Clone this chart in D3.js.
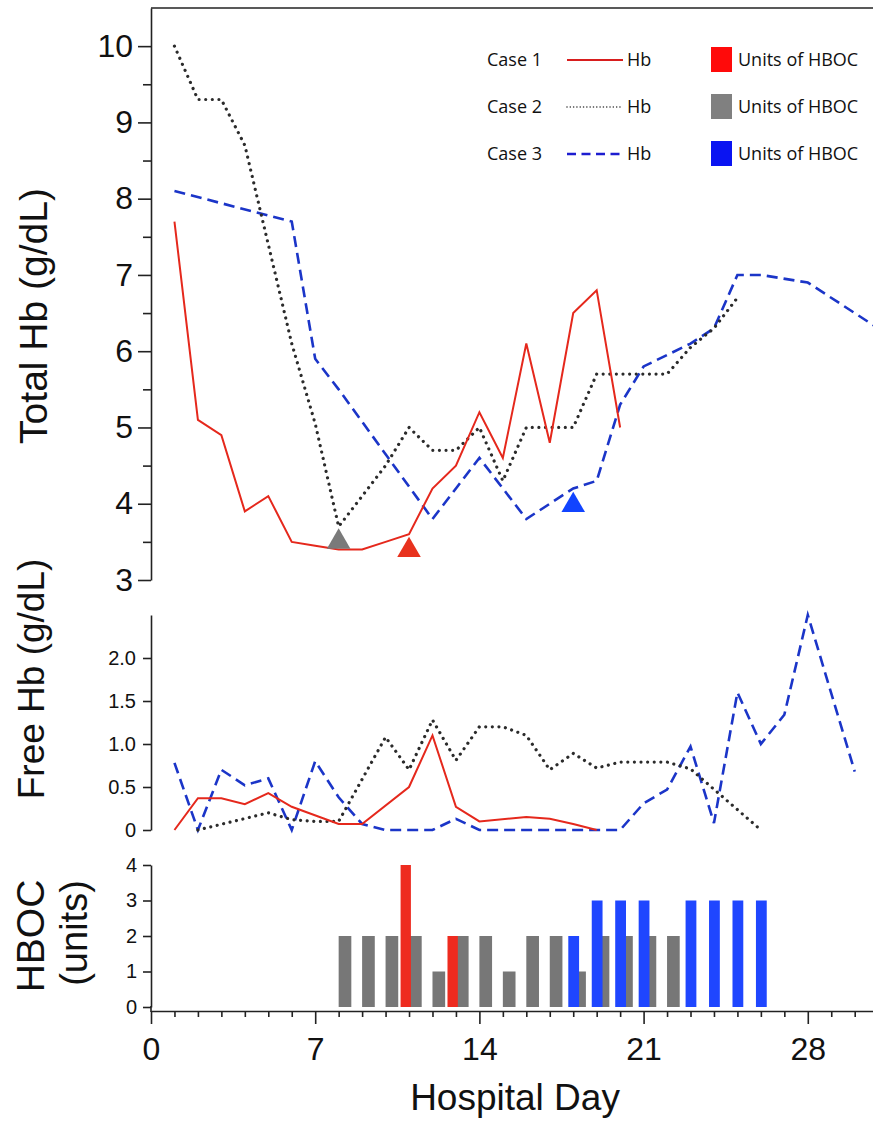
<!DOCTYPE html>
<html><head><meta charset="utf-8">
<script src="https://cdn.jsdelivr.net/npm/d3@7/dist/d3.min.js"></script>
<style>
html,body{margin:0;padding:0;background:#fff;}
svg{display:block;}
</style></head>
<body>
<svg id="chart" width="873" height="1124"></svg>
<script>
// ---------------- DATA ----------------
// Total Hb (g/dL)
const totDays1 = [1,2,3,4,5,6,7,8,9,10,11,12,13,14,15,16,17,18,19,20];
const totHb1   = [7.7,5.1,4.9,3.9,4.1,3.5,3.45,3.4,3.4,3.5,3.6,4.2,4.5,5.2,4.6,6.1,4.8,6.5,6.8,5.0];
const totDays2 = [1,2,3,4,5,6,7,8,9,10,11,12,13,14,15,16,17,18,19,20,21,22,23,24,25];
const totHb2   = [10.0,9.3,9.3,8.7,7.4,6.1,5.05,3.7,4.1,4.5,5.0,4.7,4.7,5.0,4.3,5.0,5.0,5.0,5.7,5.7,5.7,5.7,6.05,6.3,6.7];
const totDays3 = [1,6,7,8,12,13,14,16,17,18,19,20,21,23,24,25,26,28,31];
const totHb3   = [8.1,7.7,5.9,5.5,3.8,4.2,4.6,3.8,4.0,4.2,4.3,5.3,5.8,6.1,6.3,7.0,7.0,6.9,6.3];
// HBOC start markers (triangles)
const markerDays = [8, 11, 18];
const markerHb   = [3.5, 3.39, 3.98];
// Free Hb (g/dL)
const freeDays1 = [1,2,3,4,5,6,8,9,11,12,13,14,16,17,18,19];
const freeHb1   = [0.0,0.37,0.37,0.30,0.43,0.27,0.07,0.07,0.50,1.10,0.27,0.10,0.15,0.13,0.07,0.0];
const freeDays2 = [2,5,6,7,8,10,11,12,13,14,15,16,17,18,19,20,22,23,26];
const freeHb2   = [0.0,0.2,0.12,0.1,0.1,1.08,0.7,1.28,0.81,1.2,1.2,1.1,0.7,0.89,0.72,0.79,0.79,0.71,0.0];
const freeDays3 = [1,2,3,4,5,6,7,8,9,10,12,13,14,20,21,22,23,24,25,26,27,28,30];
const freeHb3   = [0.78,0.0,0.7,0.52,0.6,0.0,0.8,0.38,0.07,0.0,0.0,0.13,0.0,0.0,0.31,0.47,0.97,0.08,1.6,1.0,1.34,2.5,0.68];
// HBOC units
const grayDays  = [8,9,10,11,12,13,14,15,16,17,18,19,20,21,22];
const grayUnits = [2,2,2,2,1,2,2,1,2,2,1,2,2,2,2];
const redDays   = [11,13];
const redUnits  = [4,2];
const blueDays  = [18,19,20,21,23,24,25,26];
const blueUnits = [2,3,3,3,3,3,3,3];
// ticks / labels
const xTickDays   = [0,7,14,21,28];
const totTicks    = [3,4,5,6,7,8,9,10];
const freeTicks   = [0,0.5,1.0,1.5,2.0];
const unitTicks   = [0,1,2,3,4];
const caseNames   = ["Case 1","Case 2","Case 3"];

// ---------------- STYLE ----------------
const FONT = "'Liberation Sans', Arial, Helvetica, sans-serif";
const AX = "#222";
const cRed = "#e5281c", cDot = "#2b2b2b", cDash = "#1b35c8";
const barRed = "#ee2b1f", barGray = "#777777", barBlue = "#1f46ff";

const svg = d3.select("#chart");
const x = d3.scaleLinear().domain([0, 30.78]).range([151, 873]);
const yTop = d3.scaleLinear().domain([3, 10.5]).range([580, 8]);
const yMid = d3.scaleLinear().domain([0, 2.5]).range([830, 615]);
const yBot = d3.scaleLinear().domain([0, 4]).range([1007, 865]);

function styleAxis(g, fs){
  g.selectAll("path.domain").attr("stroke", AX).attr("stroke-width", 1.6);
  g.selectAll(".tick line").attr("stroke", AX).attr("stroke-width", 1.6);
  g.selectAll(".tick text").attr("fill", "#111").style("font-family", FONT).style("font-size", fs + "px");
}

// ---- top panel ----
svg.append("line").attr("x1", 151).attr("x2", 873).attr("y1", 8).attr("y2", 8)
  .attr("stroke", AX).attr("stroke-width", 1.6);
const gTop = svg.append("g").attr("transform", "translate(151,0)");
gTop.call(d3.axisLeft(yTop).tickValues(totTicks).tickSize(13).tickPadding(5).tickSizeOuter(0).tickFormat(d3.format("d")));
styleAxis(gTop, 32);
const gTopMinor = svg.append("g").attr("transform", "translate(151,0)");
gTopMinor.call(d3.axisLeft(yTop).tickValues(totTicks.slice(0,-1).map(v => v + 0.5)).tickSize(8).tickFormat(""));
gTopMinor.select("path.domain").remove();
styleAxis(gTopMinor, 10);

const lineTop = d3.line().x(d => x(d[0])).y(d => yTop(d[1]));
svg.append("path").datum(d3.zip(totDays3, totHb3)).attr("d", lineTop)
  .attr("fill", "none").attr("stroke", cDash).attr("stroke-width", 2.6).attr("stroke-dasharray", "11 6");
svg.append("path").datum(d3.zip(totDays2, totHb2)).attr("d", lineTop)
  .attr("fill", "none").attr("stroke", cDot).attr("stroke-width", 3.2)
  .attr("stroke-linecap", "round").attr("stroke-dasharray", "0.01 6.6");
svg.append("path").datum(d3.zip(totDays1, totHb1)).attr("d", lineTop)
  .attr("fill", "none").attr("stroke", cRed).attr("stroke-width", 2);

const triColors = ["#7a7a7a", "#e8321e", "#1144ff"];
svg.selectAll("path.tri").data(d3.zip(markerDays, markerHb)).join("path").attr("class", "tri")
  .attr("transform", d => `translate(${x(d[0])},${yTop(d[1])})`)
  .attr("d", d3.symbol().type(d3.symbolTriangle).size(240))
  .attr("fill", (d, i) => triColors[i]);

// legend
const legFont = "'Open Sans', 'Noto Sans', sans-serif";
const legY = [60, 107, 154];
const legStyles = [
  {stroke: "#d81e1e", w: 2, dash: null, cap: "butt"},
  {stroke: "#333", w: 1.6, dash: "0.01 3.3", cap: "round"},
  {stroke: "#1d1dd0", w: 2.6, dash: "9 5.5", cap: "butt"}
];
const squareColors = ["#ff0a0a", "#808080", "#0a14f2"];
caseNames.forEach((nm, i) => {
  const yy = legY[i];
  svg.append("text").attr("x", 487).attr("y", yy + 6).text(nm)
    .style("font-family", legFont).style("font-size", "18px").attr("fill", "#111");
  const s = legStyles[i];
  svg.append("line").attr("x1", 567).attr("x2", 623).attr("y1", yy).attr("y2", yy)
    .attr("stroke", s.stroke).attr("stroke-width", s.w).attr("stroke-linecap", s.cap)
    .attr("stroke-dasharray", s.dash);
  svg.append("text").attr("x", 627).attr("y", yy + 6).text("Hb")
    .style("font-family", legFont).style("font-size", "18px").attr("fill", "#111");
  svg.append("rect").attr("x", 711).attr("y", yy - 13).attr("width", 21).attr("height", 25)
    .attr("fill", squareColors[i]);
  svg.append("text").attr("x", 738).attr("y", yy + 6).text("Units of HBOC")
    .style("font-family", legFont).style("font-size", "18px").attr("fill", "#111");
});

// ---- middle panel ----
const gMid = svg.append("g").attr("transform", "translate(151,0)");
gMid.call(d3.axisLeft(yMid).tickValues(freeTicks).tickSize(8).tickPadding(7).tickSizeOuter(0)
  .tickFormat(d => d === 0 ? "0" : d3.format(".1f")(d)));
styleAxis(gMid, 20);
const lineMid = d3.line().x(d => x(d[0])).y(d => yMid(d[1]));
svg.append("path").datum(d3.zip(freeDays3, freeHb3)).attr("d", lineMid)
  .attr("fill", "none").attr("stroke", cDash).attr("stroke-width", 2.6).attr("stroke-dasharray", "11 6");
svg.append("path").datum(d3.zip(freeDays2, freeHb2)).attr("d", lineMid)
  .attr("fill", "none").attr("stroke", cDot).attr("stroke-width", 3.2)
  .attr("stroke-linecap", "round").attr("stroke-dasharray", "0.01 6.6");
svg.append("path").datum(d3.zip(freeDays1, freeHb1)).attr("d", lineMid)
  .attr("fill", "none").attr("stroke", cRed).attr("stroke-width", 2);

// ---- bottom panel ----
const gBot = svg.append("g").attr("transform", "translate(151,0)");
gBot.call(d3.axisLeft(yBot).tickValues(unitTicks).tickSize(8).tickPadding(6).tickSizeOuter(0).tickFormat(d3.format("d")));
styleAxis(gBot, 20);
svg.append("line").attr("x1", 151).attr("x2", 151).attr("y1", 1006).attr("y2", 1012)
  .attr("stroke", AX).attr("stroke-width", 1.6);

const dayW = x(1) - x(0);
svg.selectAll("rect.gray").data(d3.zip(grayDays, grayUnits)).join("rect").attr("class", "gray")
  .attr("x", d => x(d[0])).attr("width", dayW * 0.54)
  .attr("y", d => yBot(d[1])).attr("height", d => yBot(0) - yBot(d[1])).attr("fill", barGray);
svg.selectAll("rect.red").data(d3.zip(redDays, redUnits)).join("rect").attr("class", "red")
  .attr("x", d => x(d[0] - 0.36)).attr("width", dayW * 0.44)
  .attr("y", d => yBot(d[1])).attr("height", d => yBot(0) - yBot(d[1])).attr("fill", barRed);
svg.selectAll("rect.blue").data(d3.zip(blueDays, blueUnits)).join("rect").attr("class", "blue")
  .attr("x", d => x(d[0] - 0.21)).attr("width", dayW * 0.46)
  .attr("y", d => yBot(d[1])).attr("height", d => yBot(0) - yBot(d[1])).attr("fill", barBlue);

// x axis
const gX = svg.append("g").attr("transform", "translate(0,1011)");
gX.call(d3.axisBottom(x).tickValues(xTickDays).tickSize(13).tickPadding(13).tickSizeOuter(0).tickFormat(d3.format("d")));
styleAxis(gX, 32);
const gXMinor = svg.append("g").attr("transform", "translate(0,1011)");
gXMinor.call(d3.axisBottom(x).tickValues(d3.range(1, 31).filter(d => d % 7 !== 0)).tickSize(6).tickFormat(""));
gXMinor.select("path.domain").remove();
styleAxis(gXMinor, 10);

// axis titles
const title = (txt, tx, ty, fs) => svg.append("text")
  .attr("transform", `translate(${tx},${ty})` + (fs ? " rotate(-90)" : ""))
  .attr("text-anchor", "middle").text(txt)
  .style("font-family", FONT).style("font-size", (fs || 37) + "px").attr("fill", "#111");
title("Hospital Day", 515, 1110, 0);
title("Total Hb (g/dL)", 47, 316, 39);
title("Free Hb (g/dL)", 44, 679, 37);
title("HBOC", 44, 936, 39);
title("(units)", 87, 933, 38);
</script>
</body></html>
